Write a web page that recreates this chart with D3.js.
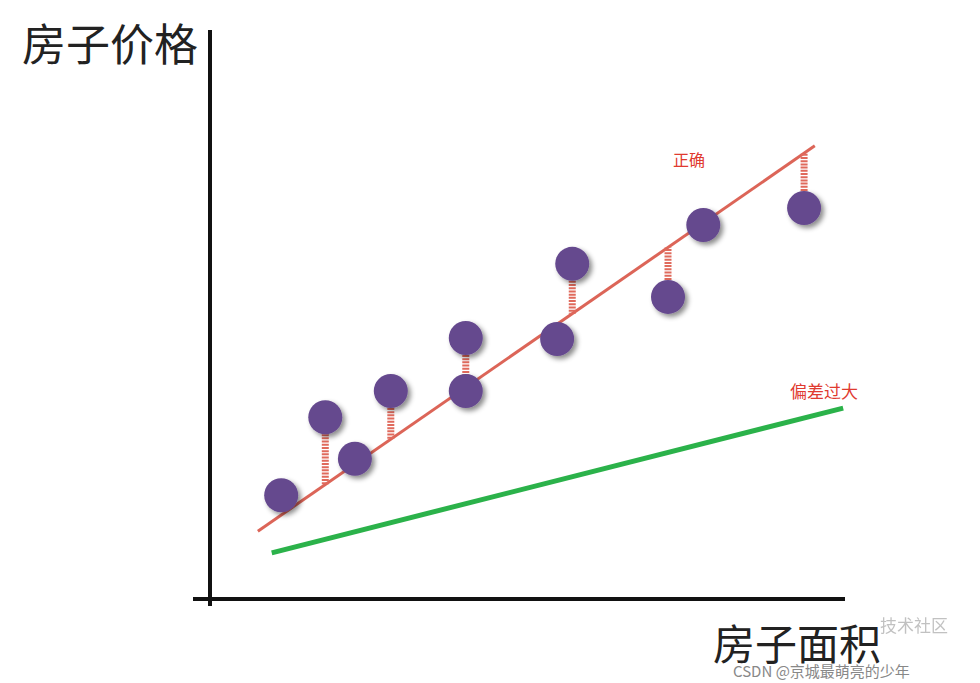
<!DOCTYPE html>
<html><head><meta charset="utf-8">
<script src="https://cdn.jsdelivr.net/npm/d3@7"></script>
<style>body{margin:0;background:#fff}svg{display:block}</style>
</head><body><svg id="chart" width="980" height="683"></svg>
<script>
// data (arbitrary units: area vs price)
const areas  = [11.3, 18.3, 23.0, 28.7, 40.6, 40.6, 55.1, 57.5, 72.7, 78.3, 94.3];
const prices = [18.2, 31.9, 24.6, 36.5, 45.8, 36.5, 45.6, 58.8, 53.0, 65.6, 68.6];
const residualIdx = [1, 3, 4, 7, 8, 10];
const goodLine = [[7.6, 11.9], [96.0, 79.5]];
const badLine  = [[9.8, 8.1], [100.5, 33.5]];

const svg = d3.select("#chart");
const font = "'Noto Sans CJK SC', sans-serif";
const x = d3.scaleLinear().domain([0, 100]).range([210, 840]);
const y = d3.scaleLinear().domain([0, 100]).range([599, 29]);
const r = 17;

const defs = svg.append("defs");
const f = defs.append("filter").attr("id", "sh").attr("x", "-50%").attr("y", "-50%").attr("width", "200%").attr("height", "200%");
f.append("feDropShadow").attr("dx", 3).attr("dy", 3).attr("stdDeviation", 2.5).attr("flood-color", "#000").attr("flood-opacity", 0.45);

// axes
svg.append("line").attr("x1", x(0)).attr("x2", x(0)).attr("y1", 30).attr("y2", 606)
    .attr("stroke", "#111").attr("stroke-width", 4);
svg.append("line").attr("x1", 193).attr("x2", 845).attr("y1", y(0)).attr("y2", y(0))
    .attr("stroke", "#111").attr("stroke-width", 4);

// regression lines
const lineFn = d3.line().x(d => x(d[0])).y(d => y(d[1]));
svg.append("path").attr("d", lineFn(goodLine)).attr("stroke", "#dc6558").attr("stroke-width", 3).attr("fill", "none");
svg.append("path").attr("d", lineFn(badLine)).attr("stroke", "#2bb24a").attr("stroke-width", 5).attr("fill", "none");

// residuals
const slope = (goodLine[1][1] - goodLine[0][1]) / (goodLine[1][0] - goodLine[0][0]);
const lineAt = a => goodLine[0][1] + slope * (a - goodLine[0][0]);
residualIdx.forEach(i => {
    const px = x(areas[i]), py = y(prices[i]), ly = y(lineAt(areas[i]));
    const edge = ly > py ? py + r : py - r;
    svg.append("line").attr("x1", px).attr("x2", px).attr("y1", edge).attr("y2", ly)
        .attr("stroke", "#e06a5c").attr("stroke-width", 7).attr("stroke-dasharray", "2,1.2");
});

// points
svg.selectAll("circle.pt").data(areas).enter().append("circle")
    .attr("class", "pt")
    .attr("cx", d => x(d))
    .attr("cy", (d, i) => y(prices[i]))
    .attr("r", r)
    .attr("fill", "#65488e")
    .attr("filter", "url(#sh)");

// labels
svg.append("text").attr("x", 22).attr("y", 61).text("房子价格")
    .style("font-family", font).style("font-size", "44px").attr("fill", "#222");
svg.append("text").attr("x", 713).attr("y", 660).text("房子面积")
    .style("font-family", font).style("font-size", "42px").attr("fill", "#222");
svg.append("text").attr("x", 673).attr("y", 166).text("正确")
    .style("font-family", font).style("font-size", "16px").attr("fill", "#e03a2f");
svg.append("text").attr("x", 790).attr("y", 398).text("偏差过大")
    .style("font-family", font).style("font-size", "17px").attr("fill", "#e03a2f");
svg.append("text").attr("x", 880).attr("y", 632).text("技术社区")
    .style("font-family", font).style("font-size", "17px").attr("fill", "#999").attr("opacity", 0.6);
svg.append("text").attr("x", 733).attr("y", 677).text("CSDN @京城最萌亮的少年")
    .style("font-family", font).style("font-size", "15px").attr("fill", "#888");
</script></body></html>
